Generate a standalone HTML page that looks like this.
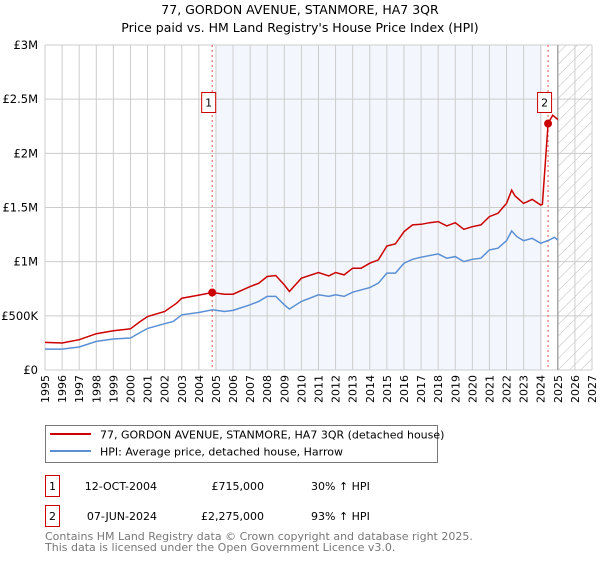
<!DOCTYPE html>
<html><head><meta charset="utf-8"><style>
body{margin:0;background:#fff;font-family:"DejaVu Sans","Liberation Sans",sans-serif;}
svg text{font-family:"DejaVu Sans","Liberation Sans",sans-serif;}
</style></head><body>
<svg id="chart" width="600" height="560" xmlns="http://www.w3.org/2000/svg">
<defs><pattern id="hatch" width="8" height="8" patternUnits="userSpaceOnUse" patternTransform="rotate(45)"><line x1="0" y1="0" x2="0" y2="8" stroke="#bbb" stroke-width="1"/></pattern></defs>
<text x="300" y="14" text-anchor="middle" font-size="12.5">77, GORDON AVENUE, STANMORE, HA7 3QR</text>
<text x="300" y="32" text-anchor="middle" font-size="12.5">Price paid vs. HM Land Registry's House Price Index (HPI)</text>
<g id="plot"></g>
<g>
<rect x="45.5" y="425.5" width="392" height="37" fill="#fff" stroke="#777"/>
<line x1="50" y1="434" x2="91" y2="434" stroke="#cc0000" stroke-width="2"/>
<text x="100" y="438.5" font-size="11">77, GORDON AVENUE, STANMORE, HA7 3QR (detached house)</text>
<line x1="50" y1="451" x2="91" y2="451" stroke="#5b8fd4" stroke-width="2"/>
<text x="100" y="455.5" font-size="11">HPI: Average price, detached house, Harrow</text>
</g>
<g font-size="11">
<rect x="45.5" y="475.5" width="14" height="21" fill="#fff" stroke="#cc0000"/>
<text x="52.5" y="490" text-anchor="middle">1</text>
<text x="157" y="490" text-anchor="end">12-OCT-2004</text>
<text x="264" y="490" text-anchor="end">£715,000</text>
<text x="311" y="490">30% ↑ HPI</text>
<rect x="45.5" y="505.5" width="14" height="21" fill="#fff" stroke="#cc0000"/>
<text x="52.5" y="520" text-anchor="middle">2</text>
<text x="157" y="520" text-anchor="end">07-JUN-2024</text>
<text x="264" y="520" text-anchor="end">£2,275,000</text>
<text x="311" y="520">93% ↑ HPI</text>
</g>
<text x="45" y="540" font-size="11" fill="#777">Contains HM Land Registry data © Crown copyright and database right 2025.</text>
<text x="45" y="551" font-size="11" fill="#777">This data is licensed under the Open Government Licence v3.0.</text>
</svg>
<script>
const yearsRed=[1995,1996,1997,1998,1999,2000,2000.5,2001,2002,2002.7,2003,2004,2004.78,2005.5,2006,2007,2007.5,2008,2008.5,2009,2009.3,2010,2011,2011.6,2012,2012.5,2013,2013.5,2014,2014.5,2015,2015.5,2016,2016.5,2017,2017.5,2018,2018.5,2019,2019.5,2020,2020.5,2021,2021.5,2022,2022.3,2022.5,2023,2023.5,2024,2024.1,2024.43,2024.7,2025];
const redValues=[255,249,280,335,362,380,439,494,540,617,663,691,715,700,700,770,800,863,872,786,725,847,900,869,900,878,940,940,986,1016,1145,1164,1277,1339,1345,1360,1370,1330,1360,1299,1323,1339,1416,1446,1538,1661,1606,1538,1575,1523,1530,2275,2352,2312];
const yearsBlue=[1995,1996,1997,1998,1999,2000,2000.5,2001,2002,2002.5,2003,2004,2004.8,2005.5,2006,2007,2007.5,2008,2008.5,2009,2009.3,2010,2011,2011.6,2012,2012.5,2013,2014,2014.5,2015,2015.5,2016,2016.5,2017,2018,2018.5,2019,2019.5,2020,2020.5,2021,2021.5,2022,2022.3,2022.6,2023,2023.5,2024,2024.5,2024.8,2025];
const blueValues=[193,193,212,264,286,295,341,384,427,448,510,531,556,540,550,602,633,679,679,602,562,633,694,679,694,679,718,761,801,894,894,986,1022,1041,1072,1032,1047,1001,1022,1032,1109,1124,1194,1284,1231,1194,1216,1170,1200,1225,1200];
const saleYears=[2004.78,2024.43];
const saleValues=[715,2275];
const saleLabels=["1","2"];
const yTicks=[0,500,1000,1500,2000,2500,3000];
const yTickLabels=["£0","£500K","£1M","£1.5M","£2M","£2.5M","£3M"];
const xTicks=[];for(let y=1995;y<=2027;y++)xTicks.push(y);

const X0=45,X1=592,Y0=370,Y1=45;
const xs=y=>X0+(y-1995)/(2027-1995)*(X1-X0);
const ys=v=>Y0-v/3000*(Y0-Y1);
const NS="http://www.w3.org/2000/svg";
const g=document.getElementById('plot');
function mk(t,a){const e=document.createElementNS(NS,t);for(const k in a)e.setAttribute(k,a[k]);g.appendChild(e);return e;}

let r=mk('rect',{x:X0,y:Y1,width:X1-X0,height:Y0-Y1,fill:'#fff'});


r=mk('rect',{x:xs(2005),y:Y1,width:xs(2024.1)-xs(2005),height:Y0-Y1,fill:'#eef3fc',opacity:0.7});


r=mk('rect',{x:xs(2025),y:Y1,width:X1-xs(2025),height:Y0-Y1,fill:'url(#hatch)'});


xTicks.forEach(y=>{
  const l=mk('line',{x1:xs(y),x2:xs(y),y1:Y1,y2:Y0,stroke:'#ccc','stroke-width':1});
  
  
  const t=mk('text',{x:0,y:0,'font-size':11,'text-anchor':'end',transform:`translate(${xs(y)+4},${Y0+5}) rotate(-90)`});
  t.textContent=y;
  
  
});
yTicks.forEach((v,i)=>{
  const l=mk('line',{x1:X0,x2:X1,y1:ys(v),y2:ys(v),stroke:'#ccc','stroke-width':1});
  
  
  const t=mk('text',{x:38,y:ys(v)+4,'font-size':11.5,'text-anchor':'end'});
  t.textContent=yTickLabels[i];
  
  
});
let bl=mk('line',{x1:xs(2025),x2:xs(2025),y1:Y1,y2:Y0,stroke:'#999','stroke-width':1.2});


saleYears.forEach((y,i)=>{
  const l=mk('line',{x1:xs(y),x2:xs(y),y1:Y1,y2:Y0,stroke:'#e05050','stroke-width':1,'stroke-dasharray':'2,3'});
  
  
});
function path(xsA,vs,color,name){
  const d=xsA.map((y,i)=>(i?'L':'M')+xs(y).toFixed(1)+','+ys(vs[i]).toFixed(1)).join('');
  const p=mk('path',{d:d,fill:'none',stroke:color,'stroke-width':1.5});
  
  
}
path(yearsBlue,blueValues,'#5b8fd4','hpi-line');
path(yearsRed,redValues,'#cc0000','property-price-line');
saleYears.forEach((y,i)=>{
  const c=mk('circle',{cx:xs(y),cy:ys(saleValues[i]),r:4,fill:'#cc0000'});
  
  
  const b=mk('rect',{x:xs(y)-10.5,y:92.5,width:14,height:20,fill:'#fff',stroke:'#cc0000'});
  
  
  const t=mk('text',{x:xs(y)-3.5,y:106.5,'font-size':11,'text-anchor':'middle'});
  t.textContent=saleLabels[i];
  
  
});
</script>
</body></html>
